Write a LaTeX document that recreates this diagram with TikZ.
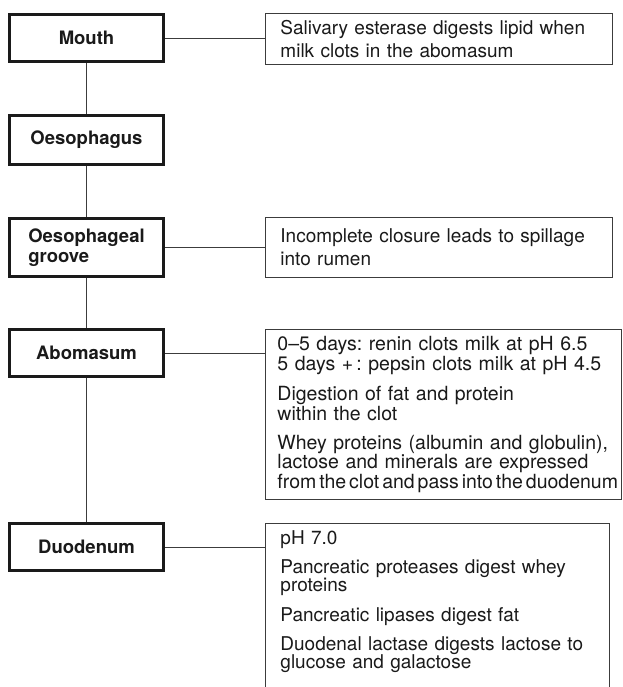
\documentclass[tikz,border=0pt]{standalone}
\usepackage{fontspec}
\setmainfont{TeX Gyre Heros}
\usepackage{tikz}
\definecolor{inkdark}{HTML}{1A1A1A}
\definecolor{inkline}{HTML}{3C3C3C}
\newcommand{\stagefont}{\fontsize{18.5}{20.5}\selectfont\bfseries}
\newcommand{\infofont}{\fontsize{19}{18}\selectfont}
\newcommand{\squeeze}{\spaceskip=0.15em\relax}
\frenchspacing

\begin{document}
\begin{tikzpicture}[
  x=1pt, y=-1pt,
  stage/.style={draw=inkdark, line width=2.8pt, minimum width=154pt, minimum height=47.2pt, inner sep=0pt, align=left, font=\stagefont, text=inkdark},
  info/.style={draw=inkline, line width=0.9pt, anchor=north west, inner xsep=15pt, inner ysep=7pt, text width=317pt, align=left, font=\infofont, text=inkdark},
  loose/.style={font=\fontsize{19}{22.5}\selectfont},
  wide/.style={font=\fontsize{19.5}{18.3}\selectfont},
  link/.style={draw=inkline, line width=0.8pt}
]
\useasboundingbox (0,0) rectangle (622,687);
\clip (0,0) rectangle (622,687);
\fill[white] (0,0) rectangle (622,687);
% Stages of the tract
\node[stage] (mouth) at (86.5,38) {Mouth};
\node[stage, minimum height=49.2pt] (oeso) at (86.5,140) {Oesophagus};
\node[stage, minimum height=58.2pt] (groove) at (86.5,247.5) {Oesophageal\\groove};
\node[stage] (abom) at (86.5,353) {Abomasum};
\node[stage] (duod) at (86.5,547) {Duodenum};
% Notes on the right
\node[info, loose, minimum height=50pt] (mouthnote) at (265,13)
  {Salivary esterase digests lipid when\\milk clots in the abomasum};
\node[info, loose, minimum height=60pt] (groovenote) at (265,217)
  {Incomplete closure leads to spillage\\into rumen};
\node[info, wide, text width=332pt, inner xsep=12pt] (abomnote) at (265,329)
  {0--5 days: renin clots milk at pH 6.5\\5 days +\,: pepsin clots milk at pH 4.5\\[11pt]%
   Digestion of fat and protein\\within the clot\\[11pt]%
   Whey proteins (albumin and globulin),\\lactose and minerals are expressed\\%
   \mbox{\squeeze from the clot and pass into the duodenum}};
\node[info, text width=314pt] (duodnote) at (265,523)
  {pH 7.0\\[11pt]Pancreatic proteases digest whey\\proteins\\[11pt]%
   Pancreatic lipases digest fat\\[11pt]%
   Duodenal lactase digests lactose to\\glucose and galactose\\[30pt]\mbox{}};
% Links
\foreach \a/\b in {mouth/oeso, oeso/groove, groove/abom, abom/duod}
  \draw[link] (\a.south) -- (\b.north);
\foreach \a/\b in {mouth/mouthnote, groove/groovenote, abom/abomnote, duod/duodnote}
  \draw[link] (\a.east) -- (\a.east -| \b.west);
\end{tikzpicture}
\end{document}
